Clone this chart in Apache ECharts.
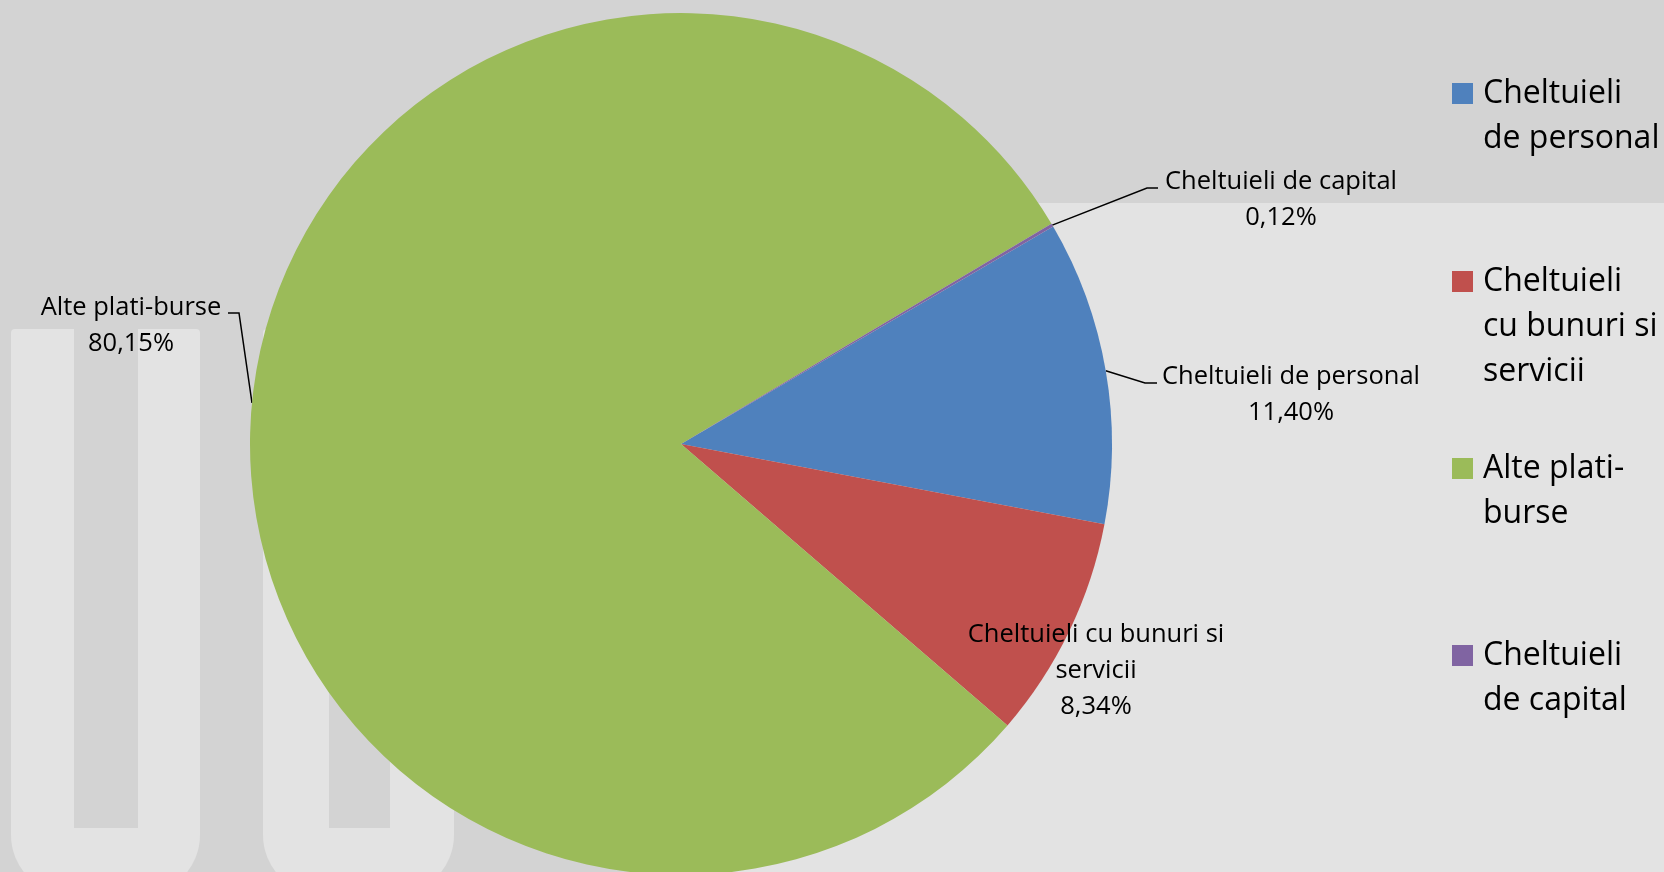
<!DOCTYPE html>
<html>
<head>
<meta charset="utf-8">
<script src="https://cdn.jsdelivr.net/npm/echarts@6/dist/echarts.min.js"></script>
<style>
  html, body { margin: 0; padding: 0; background: #d3d3d3; }
  #chart { width: 1664px; height: 872px; }
</style>
</head>
<body>
<div id="chart"></div>
<script>
// categories, legend names (wrapped like the original) and shares in %
const categories = ['Cheltuieli de personal', 'Cheltuieli cu bunuri si servicii', 'Alte plati-burse', 'Cheltuieli de capital']
const legendNames = ['Cheltuieli\nde personal', 'Cheltuieli\ncu bunuri si\nservicii', 'Alte plati-\nburse', 'Cheltuieli\nde capital']
const labelNames = ['Cheltuieli de personal', 'Cheltuieli cu bunuri si\nservicii', 'Alte plati-burse', 'Cheltuieli de capital']
const shares = [11.40, 8.34, 80.15, 0.12]
const colors = ['#4f81bd', '#c0504d', '#9bbb59', '#8064a2']

const FONT = '"Open Sans", "Noto Sans", sans-serif'
const DARK = '#d3d3d3'
const LIGHT = '#e3e3e3'

let myChart = echarts.init(document.getElementById('chart'))

// label placement (center of the text block) and leader line elbows
const labelPos = [
  { x: 1291, y: 395, line: [[1145, 383], [1157, 383]] },
  { x: 1096, y: 671, line: null },
  { x: 131, y: 326, line: [[252, 403], [239, 313], [228, 313]] },
  { x: 1281, y: 200, line: [[1147, 188], [1158, 188]] }
]

// one legend per item so the swatch sits on the first text line
const LEG_LH = 45
const LEG_PAD = 6
const legendTops = [83, 271, 458, 645]
const legends = legendNames.map(function (n, i) {
  const lines = n.split('\n').length
  // blank lines in front keep the first line centred on the swatch
  let txt = n
  for (let k = 1; k < lines; k++) txt = ' \n' + txt
  return {
    orient: 'vertical',
    left: 1452,
    top: legendTops[i] + 10.5 - (2 * lines - 1) * LEG_LH / 2 - LEG_PAD / 2,
    padding: 0,
    itemWidth: 21,
    itemHeight: 21,
    icon: 'rect',
    selectedMode: false,
    data: [categories[i]],
    formatter: function () { return txt },
    textStyle: {
      fontFamily: FONT,
      fontSize: 32,
      color: '#000',
      lineHeight: LEG_LH,
      padding: [LEG_PAD, 0, 0, 5]
    }
  }
})

let option = {
  backgroundColor: DARK,
  animation: false,
  color: colors,
  graphic: [
    // light panel on the right, top band stays dark
    { type: 'rect', z: -10, shape: { x: 700, y: 203, width: 964, height: 669 }, style: { fill: LIGHT } },
    // watermark letters at the bottom left
    { type: 'rect', z: -10, shape: { x: 11, y: 329, width: 189, height: 566, r: [4, 4, 60, 60] }, style: { fill: LIGHT } },
    { type: 'rect', z: -9, shape: { x: 74, y: 329, width: 64, height: 499 }, style: { fill: DARK } },
    { type: 'rect', z: -10, shape: { x: 263, y: 329, width: 191, height: 566, r: [4, 4, 60, 60] }, style: { fill: LIGHT } },
    { type: 'rect', z: -9, shape: { x: 329, y: 329, width: 61, height: 499 }, style: { fill: DARK } }
  ],
  legend: legends,
  series: [
    {
      type: 'pie',
      center: [681, 444],
      radius: 431,
      startAngle: 30.3,
      clockwise: true,
      avoidLabelOverlap: false,
      itemStyle: { borderWidth: 0 },
      label: {
        show: true,
        fontFamily: FONT,
        fontSize: 25.5,
        lineHeight: 36,
        color: '#000',
        formatter: function (p) {
          return labelNames[p.dataIndex] + '\n' + p.value.toFixed(2).replace('.', ',') + '%'
        }
      },
      labelLine: {
        show: true,
        lineStyle: { color: '#000', width: 1.5 }
      },
      labelLayout: function (params) {
        const lp = labelPos[params.dataIndex]
        let pts
        if (lp.line) {
          pts = lp.line.length === 3 ? lp.line : [params.labelLinePoints[0]].concat(lp.line)
        }
        return {
          x: lp.x,
          y: lp.y,
          align: 'center',
          verticalAlign: 'middle',
          labelLinePoints: pts || [[lp.x, lp.y], [lp.x, lp.y], [lp.x, lp.y]]
        }
      },
      data: categories.map(function (c, i) {
        const d = { name: c, value: shares[i] }
        if (!labelPos[i].line) d.labelLine = { show: false }
        return d
      })
    }
  ]
}
myChart.setOption(option)
</script>
</body>
</html>
